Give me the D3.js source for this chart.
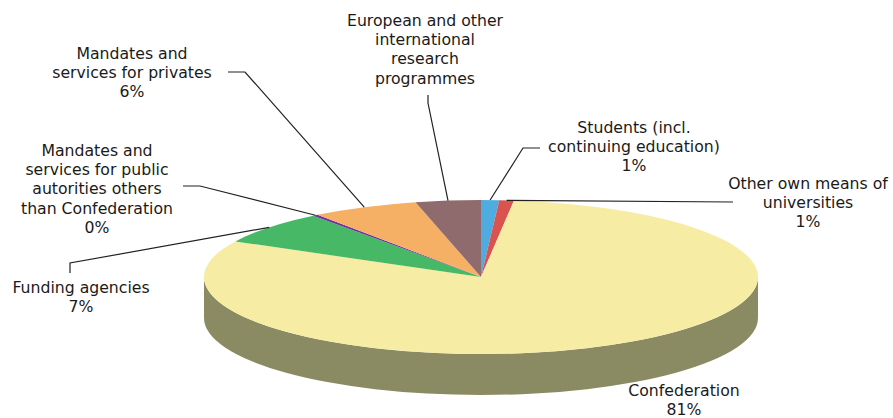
<!DOCTYPE html>
<html>
<head>
<meta charset="utf-8">
<script src="https://cdn.jsdelivr.net/npm/d3@7"></script>
<style>
  body { margin: 0; background: #fff; }
  svg text { font-family: "DejaVu Sans", Verdana, sans-serif; font-size: 15.7px; fill: #1a1a1a; }
</style>
</head>
<body>
<div id="chart"></div>
<script>
// slices, clockwise from 12 o'clock
var categories = ["Students (incl. continuing education)", "Other own means of universities", "Confederation",
                  "Funding agencies", "Mandates and services for public autorities others than Confederation",
                  "Mandates and services for privates", "European and other international research programmes"];
var values = [1.05, 0.85, 80.75, 7.0, 0.3, 6.25, 3.8];
// label text as it is broken in the picture
var labelLines = [
    ["Students (incl.", "continuing education)"],
    ["Other own means of", "universities"],
    ["Confederation"],
    ["Funding agencies"],
    ["Mandates and", "services for public", "autorities others", "than Confederation"],
    ["Mandates and", "services for privates"],
    ["European and other", "international", "research", "programmes"]
];
var showPercent = [true, true, true, true, true, true, false];

var colors = ["#4eace0", "#d9534f", "#f6eca3", "#47b866", "#7030a0", "#f5b066", "#8f6b6d"];
var sideColors = ["#3a7fa8", "#a33e3b", "#8b8b63", "#357f4c", "#542478", "#b88450", "#6b5052"];

// label layout: center x, first baseline, leader start and elbow
var labelPos = [
    {x: 634, y: 133, start: [540, 148], elbow: [523, 148]},
    {x: 808, y: 189, start: [733, 202], elbow: [733, 202]},
    {x: 684, y: 396, start: null},
    {x: 81, y: 293, start: [70, 273], elbow: [70, 263]},
    {x: 97, y: 156, start: [183, 186], elbow: [200, 186]},
    {x: 132, y: 59, start: [228, 72], elbow: [245, 72]},
    {x: 425, y: 26, start: [428, 95], elbow: [428, 103]}
];

var width = 893, height = 418;
var cx = 481, cy = 277, rx = 277, ry = 77, depth = 41, lineH = 19.2;

var svg = d3.select("#chart").append("svg")
    .attr("width", width)
    .attr("height", height);

var pie = d3.pie().sort(null).value(function (d) { return d; });
var arcs = pie(values);

function pt(a, dy) {
    return [cx + rx * Math.sin(a), cy - ry * Math.cos(a) + (dy || 0)];
}

// side wall (only the front half is visible)
var sides = svg.append("g");
arcs.forEach(function (d, i) {
    var a0 = Math.max(d.startAngle, Math.PI / 2);
    var a1 = Math.min(d.endAngle, Math.PI * 3 / 2);
    if (a1 <= a0) return;
    var p0 = pt(a0), p1 = pt(a1), q1 = pt(a1, depth), q0 = pt(a0, depth);
    var large = (a1 - a0) > Math.PI ? 1 : 0;
    var path = "M" + p0 + "A" + rx + "," + ry + " 0 " + large + " 1 " + p1 +
               "L" + q1 + "A" + rx + "," + ry + " 0 " + large + " 0 " + q0 + "Z";
    sides.append("path").attr("d", path).attr("fill", sideColors[i]);
});

// top face
var tops = svg.append("g");
arcs.forEach(function (d, i) {
    var p0 = pt(d.startAngle), p1 = pt(d.endAngle);
    var large = (d.endAngle - d.startAngle) > Math.PI ? 1 : 0;
    var path = "M" + cx + "," + cy + "L" + p0 + "A" + rx + "," + ry + " 0 " + large + " 1 " + p1 + "Z";
    tops.append("path").attr("d", path).attr("fill", colors[i]);
});

// leader lines
var fmt = d3.format(".0f");
var total = d3.sum(values);
arcs.forEach(function (d, i) {
    var lp = labelPos[i];
    if (!lp.start) return;
    var end = pt((d.startAngle + d.endAngle) / 2);
    svg.append("polyline")
        .attr("points", [lp.start, lp.elbow, end].join(" "))
        .attr("fill", "none")
        .attr("stroke", "#222")
        .attr("stroke-width", 1.2);
});

// labels
arcs.forEach(function (d, i) {
    var lines = labelLines[i].slice();
    if (showPercent[i]) lines.push(fmt(values[i] / total * 100) + "%");
    var t = svg.append("text")
        .attr("text-anchor", "middle")
        .attr("x", labelPos[i].x)
        .attr("y", labelPos[i].y);
    lines.forEach(function (l, j) {
        t.append("tspan")
            .attr("x", labelPos[i].x)
            .attr("dy", j === 0 ? 0 : lineH)
            .text(l);
    });
});
</script>
</body>
</html>
